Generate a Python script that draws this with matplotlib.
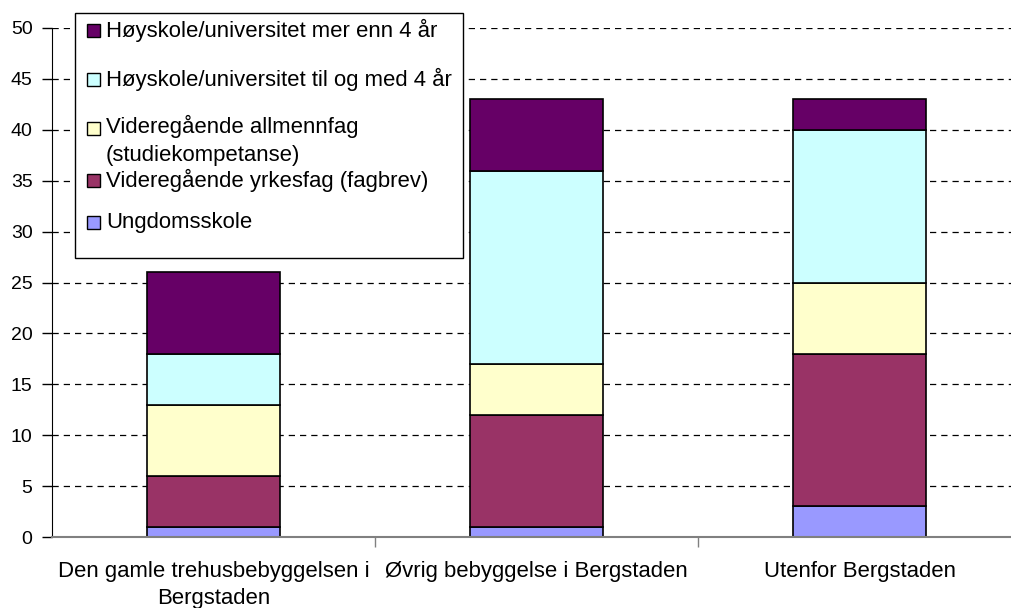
import matplotlib
matplotlib.use("Agg")
import matplotlib.pyplot as plt
from matplotlib.patches import Rectangle
import numpy as np

plt.rcParams['font.family'] = ['Liberation Sans', 'DejaVu Sans']

categories = ["Den gamle trehusbebyggelsen i\nBergstaden",
              "Øvrig bebyggelse i Bergstaden",
              "Utenfor Bergstaden"]
series_names = ["Ungdomsskole",
                "Videregående yrkesfag (fagbrev)",
                "Videregående allmennfag\n(studiekompetanse)",
                "Høyskole/universitet til og med 4 år",
                "Høyskole/universitet mer enn 4 år"]
ungdomsskole = [1, 1, 3]
yrkesfag = [5, 11, 15]
allmennfag = [7, 5, 7]
hoy_til4 = [5, 19, 15]
hoy_mer4 = [8, 7, 3]
colors = ["#9999FF", "#993366", "#FFFFCC", "#CCFFFF", "#660066"]
yticks = list(range(0, 51, 5))

FS = 15.9
W, H = 1011, 608
fig = plt.figure(figsize=(W / 100, H / 100), dpi=100)
ax = fig.add_axes([52 / W, (H - 537) / H, (W - 52) / W, (537 - 28) / H])

x = np.arange(len(categories))
series = [ungdomsskole, yrkesfag, allmennfag, hoy_til4, hoy_mer4]
bottom = np.zeros(len(categories))
for vals, c in zip(series, colors):
    ax.bar(x, vals, width=0.41, bottom=bottom, color=c, edgecolor="black",
           linewidth=1.2, zorder=3)
    bottom += np.array(vals)

ax.set_xlim(-0.5, -0.5 + (W - 52) / 323)
ax.set_ylim(0, 50)
ax.set_yticks(yticks)
ax.set_yticklabels([str(t) for t in yticks], fontsize=14)
ax.yaxis.grid(True, linestyle=(0, (5, 4)), color="black", linewidth=0.9, zorder=0)
ax.set_axisbelow(True)

ax.set_xticks(x)
ax.set_xticklabels(categories, fontsize=FS, linespacing=1.4)
ax.tick_params(axis="x", which="major", length=0, pad=17)
ax.set_xticks([0.5, 1.5], minor=True)
ax.tick_params(axis="x", which="minor", length=7, color="#808080", width=1)
ax.tick_params(axis="y", length=7, width=1, color="black", pad=7)

for s in ["top", "right"]:
    ax.spines[s].set_visible(False)
ax.spines["left"].set_color("black")
ax.spines["bottom"].set_color("#808080")
ax.spines["bottom"].set_linewidth(1.5)
ax.spines["bottom"].set_zorder(4)

# legend (manual, Excel style)
def fx(px):
    return px / W

def fy(py):
    return (H - py) / H

fig.patches.append(Rectangle((fx(75), fy(258)), fx(463) - fx(75), fy(13) - fy(258),
                             transform=fig.transFigure, facecolor="white",
                             edgecolor="black", linewidth=1, zorder=10))
leg_y = [222, 180, 128, 79, 30]
for name, c, yy in zip(series_names, colors, leg_y):
    fig.patches.append(Rectangle((fx(87), fy(yy + 7)), fx(100) - fx(87), fy(yy - 6) - fy(yy + 7),
                                 transform=fig.transFigure, facecolor=c,
                                 edgecolor="black", linewidth=1, zorder=11))
    if "\n" in name:
        fig.text(fx(106), fy(yy - 13), name, fontsize=FS, va="top", ha="left",
                 zorder=12, linespacing=1.4)
    else:
        fig.text(fx(106), fy(yy), name, fontsize=FS, va="center", ha="left",
                 zorder=12)

fig.savefig("out.png", dpi=100)
